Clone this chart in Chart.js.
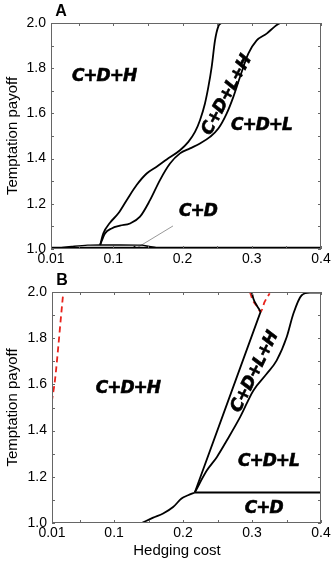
<!DOCTYPE html>
<html>
<head>
<meta charset="utf-8">
<script src="https://cdn.jsdelivr.net/npm/chart.js@4.4.1/dist/chart.umd.min.js"></script>
<style>
  html, body { margin: 0; padding: 0; background: #fff; }
  #wrap { position: relative; width: 335px; height: 564px; }
  canvas { position: absolute; left: 0; top: 0; }
</style>
</head>
<body>
<div id="wrap">
  <canvas id="chartA" width="335" height="564"></canvas>
  <canvas id="chartB" width="335" height="564"></canvas>
</div>
<script>
// axes
const xTicks = [0.01, 0.1, 0.2, 0.3, 0.4]
const xTickLabels = ['0.01', '0.1', '0.2', '0.3', '0.4']
const xMinorTicks = [0.05, 0.15, 0.25, 0.35]
const yTicks = [1.0, 1.2, 1.4, 1.6, 1.8, 2.0]
const yTickLabels = ['1.0', '1.2', '1.4', '1.6', '1.8', '2.0']
const yMinorTicks = [1.1, 1.3, 1.5, 1.7, 1.9]
const regionNames = ['C+D+H', 'C+D+L+H', 'C+D+L', 'C+D']

// panel A boundaries (hedging cost -> temptation payoff)
const aBaseX = [0.01, 0.4]
const aBaseY = [1.006, 1.006]
const aBumpX = [0.025, 0.04, 0.063, 0.081, 0.11, 0.141, 0.152, 0.162]
const aBumpY = [1.006, 1.011, 1.017, 1.018, 1.018, 1.017, 1.011, 1.006]
const aUpperX = [0.081, 0.0856, 0.0952, 0.1073, 0.1193, 0.1337, 0.1482, 0.1626, 0.1771, 0.1963, 0.2084, 0.218, 0.2252, 0.2324, 0.2373, 0.2421, 0.2469, 0.2517, 0.256]
const aUpperY = [1.018, 1.069, 1.116, 1.158, 1.216, 1.283, 1.334, 1.364, 1.396, 1.437, 1.474, 1.518, 1.57, 1.644, 1.717, 1.806, 1.923, 1.985, 2.0]
const aLowerX = [0.081, 0.088, 0.0976, 0.1097, 0.1241, 0.1386, 0.153, 0.1674, 0.1819, 0.1963, 0.2108, 0.2252, 0.2397, 0.2517, 0.2637, 0.2734, 0.283, 0.295, 0.3071, 0.3215, 0.3335, 0.3408]
const aLowerY = [1.018, 1.069, 1.091, 1.103, 1.113, 1.143, 1.216, 1.305, 1.378, 1.423, 1.445, 1.467, 1.496, 1.533, 1.599, 1.673, 1.761, 1.864, 1.923, 1.953, 1.985, 2.0]
const aStubX = [0.126, 0.132]
const aStubY = [1.0, 1.01]
const aPointerX = [0.1313, 0.1862]
const aPointerY = [1.0, 1.102]

// panel B boundaries
const bBottomX = [0.14, 0.1567, 0.1711, 0.1856, 0.1978, 0.2073, 0.217]
const bBottomY = [1.0, 1.023, 1.041, 1.069, 1.106, 1.12, 1.132]
const bFlatX = [0.217, 0.4]
const bFlatY = [1.132, 1.132]
const bWedgeLeftX = [0.217, 0.3125]
const bWedgeLeftY = [1.132, 1.915]
const bWedgeRightX = [0.217, 0.2344, 0.2489, 0.2634, 0.2827, 0.302, 0.3213, 0.3358, 0.3503, 0.3599, 0.372, 0.384, 0.3985]
const bWedgeRightY = [1.132, 1.227, 1.285, 1.357, 1.458, 1.574, 1.646, 1.704, 1.805, 1.906, 1.986, 1.997, 1.997]
const bCapX = [0.2996, 0.302, 0.3068, 0.3125]
const bCapY = [2.0, 1.971, 1.942, 1.915]
const bRedTopX = [0.297, 0.301, 0.3068, 0.3125, 0.3184, 0.3256]
const bRedTopY = [2.0, 1.965, 1.94, 1.915, 1.958, 1.994]
const bRedLeftX = [0.0096, 0.0143, 0.0191, 0.0226, 0.0264]
const bRedLeftY = [1.524, 1.618, 1.763, 1.879, 2.0]

const FONT = "'Liberation Sans', Arial, Helvetica, sans-serif"

function pts(xs, ys) {
  return xs.map((v, i) => ({ x: v, y: ys[i] }))
}

function line(xs, ys, opts = {}) {
  return Object.assign({
    data: pts(xs, ys),
    borderColor: '#000',
    borderWidth: 1.8,
    pointRadius: 0,
    cubicInterpolationMode: 'monotone',
    fill: false
  }, opts)
}

// frame with inward ticks on all four sides, x title drawn off-centre like the original
const frameTicks = {
  id: 'frameTicks',
  afterDatasetsDraw(chart, args, opts) {
    const { ctx, chartArea: a, scales: { x, y } } = chart
    ctx.save()
    ctx.strokeStyle = '#666'
    ctx.lineWidth = 1
    ctx.strokeRect(a.left + 0.5, a.top + 0.5, a.right - a.left - 1, a.bottom - a.top - 1)
    ctx.beginPath()
    xTicks.concat(xMinorTicks).forEach(v => {
      const px = Math.round(x.getPixelForValue(v)) + 0.5
      ctx.moveTo(px, a.bottom); ctx.lineTo(px, a.bottom - 3)
      ctx.moveTo(px, a.top); ctx.lineTo(px, a.top + 3)
    })
    yTicks.concat(yMinorTicks).forEach(v => {
      const py = Math.round(y.getPixelForValue(v)) + 0.5
      ctx.moveTo(a.left, py); ctx.lineTo(a.left + 3, py)
      ctx.moveTo(a.right, py); ctx.lineTo(a.right - 3, py)
    })
    ctx.stroke()
    if (opts.xTitle) {
      ctx.fillStyle = '#000'
      ctx.font = '15px ' + FONT
      ctx.textAlign = 'center'
      ctx.textBaseline = 'middle'
      ctx.fillText(opts.xTitle, a.left + 125, a.bottom + 28)
    }
    ctx.restore()
  }
}

// region names and panel letter
const regionLabels = {
  id: 'regionLabels',
  afterDatasetsDraw(chart, args, opts) {
    const { ctx, chartArea: a, scales: { x, y } } = chart
    ctx.save()
    ctx.fillStyle = '#000'
    ctx.textAlign = 'center'
    ctx.textBaseline = 'middle'
    ctx.font = "bold italic 17px 'DejaVu Sans', sans-serif"
    ctx.letterSpacing = '-1px'
    opts.items.forEach(it => {
      ctx.save()
      ctx.translate(x.getPixelForValue(it.x), y.getPixelForValue(it.y))
      ctx.rotate((it.rot || 0) * Math.PI / 180)
      ctx.fillText(it.text, 0, 0)
      ctx.strokeStyle = '#000'
      ctx.lineWidth = 0.6
      ctx.strokeText(it.text, 0, 0)
      ctx.restore()
    })
    ctx.letterSpacing = '0px'
    ctx.font = 'bold 16px ' + FONT
    ctx.fillText(opts.letter, a.left + 10, a.top - 11)
    ctx.restore()
  }
}

function makePanel(id, datasets, pad, xHeight, xTitle, labels, letter) {
  new Chart(document.getElementById(id), {
    type: 'line',
    data: { datasets },
    options: {
      responsive: false,
      animation: false,
      devicePixelRatio: 1,
      layout: { padding: pad },
      plugins: {
        legend: { display: false },
        tooltip: { enabled: false },
        frameTicks: { xTitle },
        regionLabels: { items: labels, letter }
      },
      scales: {
        x: {
          type: 'linear',
          min: 0.01,
          max: 0.4,
          grid: { display: false, drawTicks: false },
          border: { display: false },
          afterBuildTicks: s => { s.ticks = xTicks.map(v => ({ value: v })) },
          afterFit: s => { s.height = xHeight },
          ticks: {
            padding: 2,
            color: '#000',
            font: { family: FONT, size: 14 },
            maxRotation: 0,
            callback: (v, i) => xTickLabels[i]
          }
        },
        y: {
          type: 'linear',
          min: 1.0,
          max: 2.0,
          grid: { display: false, drawTicks: false },
          border: { display: false },
          afterBuildTicks: s => { s.ticks = yTicks.map(v => ({ value: v })) },
          afterFit: s => { s.width = pad.yWidth },
          ticks: {
            padding: 5,
            color: '#000',
            font: { family: FONT, size: 14 },
            callback: (v, i) => yTickLabels[i]
          },
          title: {
            display: true,
            text: 'Temptation payoff',
            color: '#000',
            font: { family: FONT, size: 15 },
            padding: { top: 3.5, bottom: 0 }
          }
        }
      }
    },
    plugins: [frameTicks, regionLabels]
  })
}

makePanel('chartA', [
  line(aBaseX, aBaseY),
  line(aBumpX, aBumpY, { borderWidth: 1.4 }),
  line(aUpperX, aUpperY),
  line(aLowerX, aLowerY),
  line(aStubX, aStubY, { borderWidth: 2 }),
  line(aPointerX, aPointerY, { borderColor: '#999', borderWidth: 1 })
], { top: 23, bottom: 285, left: 0, right: 14, yWidth: 51 }, 30, '', [
  { text: regionNames[0], x: 0.0866, y: 1.761 },
  { text: regionNames[1], x: 0.264, y: 1.68, rot: -62 },
  { text: regionNames[2], x: 0.314, y: 1.544 },
  { text: regionNames[3], x: 0.2223, y: 1.165 }
], 'A')

makePanel('chartB', [
  line(bBottomX, bBottomY),
  line(bFlatX, bFlatY),
  line(bWedgeLeftX, bWedgeLeftY),
  line(bWedgeRightX, bWedgeRightY),
  line(bCapX, bCapY),
  line(bRedTopX, bRedTopY, { borderColor: '#e8231c', borderDash: [6, 4] }),
  line(bRedLeftX, bRedLeftY, { borderColor: '#e8231c', borderDash: [6, 4] })
], { top: 292, bottom: 0, left: 0, right: 14, yWidth: 52 }, 41, 'Hedging cost', [
  { text: regionNames[0], x: 0.12, y: 1.582 },
  { text: regionNames[1], x: 0.304, y: 1.653, rot: -64 },
  { text: regionNames[2], x: 0.3237, y: 1.265 },
  { text: regionNames[3], x: 0.317, y: 1.062 }
], 'B')
</script>
</body>
</html>
